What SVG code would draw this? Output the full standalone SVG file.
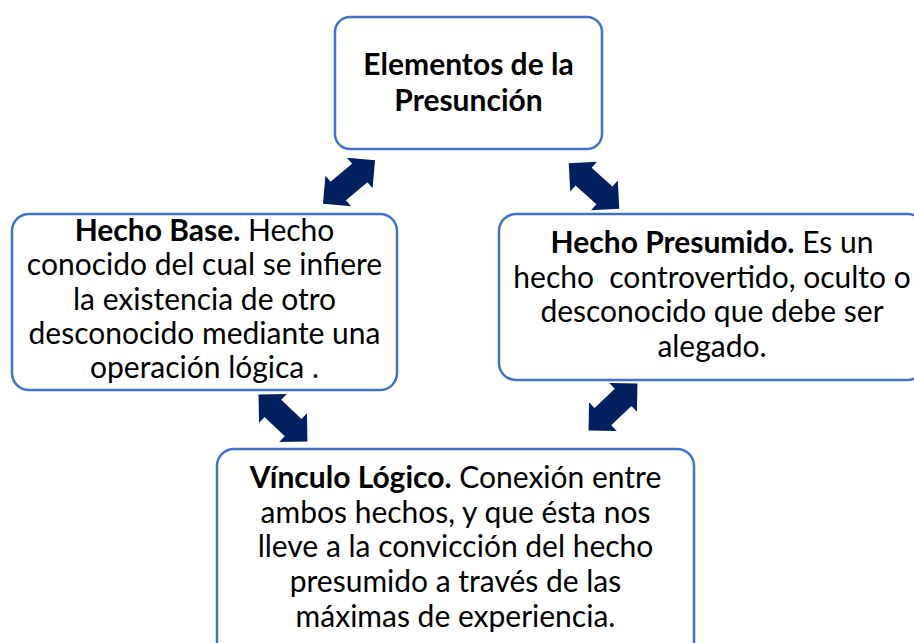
<svg xmlns="http://www.w3.org/2000/svg" width="914" height="643" viewBox="0 0 914 643">
<defs>
<style>
.box{fill:#fff;stroke:#4472C4;stroke-width:2.5}
.t{font-family:Lato,"Open Sans","Liberation Sans",sans-serif;font-size:30px;fill:#000;text-anchor:middle}
.b{font-weight:bold}
.arr{fill:#002060}
</style>
<polygon id="dbl" points="-34,0 -14,-20 -14,-12 14,-12 14,-20 34,0 14,20 14,12 -14,12 -14,20"/>
</defs>
<rect width="914" height="643" fill="#fff"/>
<g id="connectors" class="arr">
<use href="#dbl" transform="translate(349,182) rotate(-40)"/>
<use href="#dbl" transform="translate(594,186) rotate(42)"/>
<use href="#dbl" transform="translate(283,418) rotate(44)"/>
<use href="#dbl" transform="translate(613,407) rotate(-44)"/>
</g>
<g id="node-top">
<rect class="box" x="335" y="17" width="267" height="132" rx="15"/>
<text class="t b" x="468.5" y="75">Elementos de la</text>
<text class="t b" x="468.5" y="111">Presunción</text>
</g>
<g id="node-left">
<rect class="box" x="12" y="214" width="385" height="176" rx="17"/>
<text class="t" x="204.5" y="241"><tspan class="b">Hecho Base.</tspan> Hecho</text>
<text class="t" x="204.5" y="275">conocido del cual se infiere</text>
<text class="t" x="204.5" y="310">la existencia de otro</text>
<text class="t" x="204.5" y="344">desconocido mediante una</text>
<text class="t" x="204.5" y="378">operación lógica .</text>
</g>
<g id="node-right">
<rect class="box" x="499" y="214" width="426" height="166" rx="17"/>
<text class="t" x="712" y="253"><tspan class="b">Hecho Presumido.</tspan> Es un</text>
<text class="t" x="712" y="288" xml:space="preserve">hecho  controvertido, oculto o</text>
<text class="t" x="712" y="322">desconocido que debe ser</text>
<text class="t" x="712" y="357">alegado.</text>
</g>
<g id="node-bottom">
<rect class="box" x="217" y="449" width="477" height="210" rx="17"/>
<text class="t" x="455.5" y="488"><tspan class="b">Vínculo Lógico.</tspan> Conexión entre</text>
<text class="t" x="455.5" y="523">ambos hechos, y que ésta nos</text>
<text class="t" x="455.5" y="557">lleve a la convicción del hecho</text>
<text class="t" x="455.5" y="592">presumido a través de las</text>
<text class="t" x="455.5" y="627">máximas de experiencia.</text>
</g>
</svg>
